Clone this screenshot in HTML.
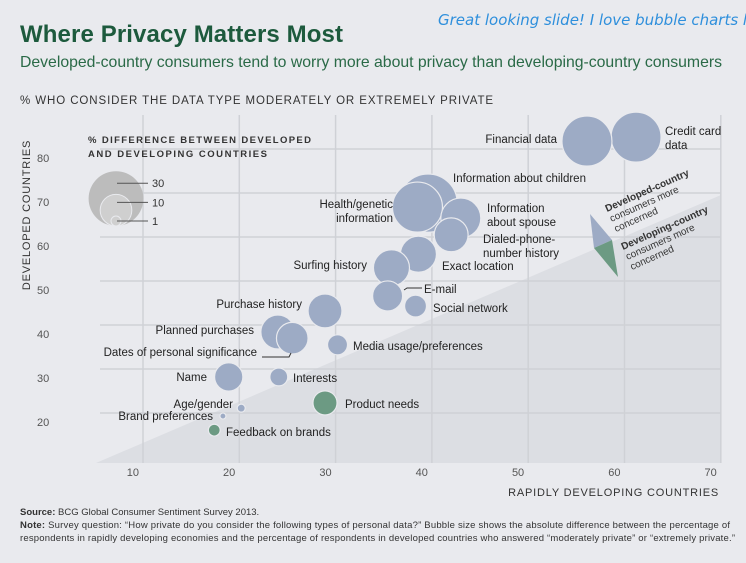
<!DOCTYPE html>
<html><head><meta charset="utf-8"><style>
html,body{margin:0;padding:0;background:#e9eaee;}
svg{display:block;font-family:"Liberation Sans",sans-serif;}
</style></head><body>
<svg width="746" height="563" viewBox="0 0 746 563">
<rect width="746" height="563" fill="#e9eaee"/>
<text x="20" y="42" font-size="24" font-weight="bold" fill="#1d5a3d" textLength="323">Where Privacy Matters Most</text>
<text x="20" y="67" font-size="15.8" fill="#2a6a47" textLength="702">Developed-country consumers tend to worry more about privacy than developing-country consumers</text>
<text x="438" y="25" font-size="15" font-style="italic" fill="#2e8fdc" font-family="DejaVu Sans,sans-serif">Great looking slide!  I love bubble charts li</text>
<text x="20" y="104" font-size="11.5" letter-spacing="0.9" fill="#333" textLength="474">% WHO CONSIDER THE DATA TYPE MODERATELY OR EXTREMELY PRIVATE</text>
<g id="plot"></g>
<text transform="translate(30,215) rotate(-90)" text-anchor="middle" font-size="11" letter-spacing="0.8" fill="#333">DEVELOPED COUNTRIES</text>
<text x="719" y="496" text-anchor="end" font-size="11" letter-spacing="0.8" fill="#333">RAPIDLY DEVELOPING COUNTRIES</text>
<text x="20" y="515" font-size="9.5" fill="#333"><tspan font-weight="bold">Source:</tspan> BCG Global Consumer Sentiment Survey 2013.</text>
<text x="20" y="528" font-size="9.5" fill="#333" textLength="710"><tspan font-weight="bold">Note:</tspan> Survey question: “How private do you consider the following types of personal data?” Bubble size shows the absolute difference between the percentage of</text>
<text x="20" y="541" font-size="9.5" fill="#333" textLength="715">respondents in rapidly developing economies and the percentage of respondents in developed countries who answered “moderately private” or “extremely private.”</text>
</svg>
<script>
const names=["Credit card data","Financial data","Information about children","Health/genetic information","Information about spouse","Dialed-phone-number history","Exact location","Surfing history","E-mail","Social network","Purchase history","Planned purchases","Dates of personal significance","Media usage/preferences","Name","Interests","Product needs","Age/gender","Brand preferences","Feedback on brands"];
const developing=[61.2,56.1,39.6,38.5,43.0,42.0,38.6,35.8,35.4,38.3,28.9,24.0,25.5,30.2,18.9,24.1,28.9,20.2,18.3,17.4];
const developed=[82.7,81.8,67.7,66.8,64.3,60.5,56.1,53.0,46.6,44.3,43.2,38.4,37.0,35.5,28.2,28.2,22.3,21.1,19.3,16.1];
const diffs=[25,25,34,25,16,11.5,13,13,9,4.8,11.5,11.5,10,4,8,3.2,5.8,0.64,0.36,1.4];
const developingMore=[0,0,0,0,0,0,0,0,0,0,0,0,0,0,0,0,1,0,0,1];
const xTicks=[10,20,30,40,50,60,70];
const yTicks=[20,30,40,50,60,70,80];
const legendVals=[30,10,1];

const NS="http://www.w3.org/2000/svg";
const X=v=>143+(v-10)*9.63;
const Y=v=>149+(80-v)*4.4;
const R=d=>5*Math.sqrt(d);
const g=document.getElementById('plot');
function mk(t,a,p){const e=document.createElementNS(NS,t);for(const k in a)e.setAttribute(k,a[k]);(p||g).appendChild(e);return e;}

const diag=mk('polygon',{points:`96,463 721,195 721,463`,fill:'#dcdee3'});


xTicks.forEach(v=>{
  const l=mk('line',{x1:X(v),x2:X(v),y1:115,y2:463,stroke:'#cfd1d6','stroke-width':1.5});
  
  
  const t=mk('text',{x:X(v)-4,y:476,'text-anchor':'end','font-size':11,fill:'#555'});
  t.textContent=v;
  
  
});
yTicks.forEach(v=>{
  const l=mk('line',{x1:100,x2:721,y1:Y(v),y2:Y(v),stroke:'#cfd1d6','stroke-width':1.5});
  
  
  const t=mk('text',{x:37,y:Y(v)+13,'font-size':11,fill:'#555'});
  t.textContent=v;
  
  
});
const lg=mk('g',{});


const lt1=mk('text',{x:88,y:143,'font-size':9.5,'font-weight':'bold','letter-spacing':1,fill:'#333',textLength:224},lg);lt1.textContent='% DIFFERENCE BETWEEN DEVELOPED';


const lt2=mk('text',{x:88,y:157,'font-size':9.5,'font-weight':'bold','letter-spacing':1,fill:'#333',textLength:180},lg);lt2.textContent='AND DEVELOPING COUNTRIES';


const lb=226;
legendVals.forEach((v,i)=>{
  const r=R(v);
  const c=mk('circle',{cx:116,cy:lb-r,r:r,fill:i==0?'#bcbcbc':'#cfcfcf',stroke:'#e9eaee','stroke-width':i==0?0:1},lg);
  
  
  const yy=lb-2*r+(i==0?12:(i==1?8:5));
  mk('line',{x1:117,x2:148,y1:yy,y2:yy,stroke:'#555','stroke-width':1},lg);
  const t=mk('text',{x:152,y:yy+4,'font-size':11,fill:'#333'},lg);t.textContent=v;
  
  
});
diffs.forEach((d,i)=>{
  const c=mk('circle',{cx:X(developing[i]),cy:Y(developed[i]),r:R(d),fill:developingMore[i]?'#6c9a83':'#9dabc5',stroke:'#e9eaee','stroke-width':1.2});
  
  
});
const labels=[
 [665,135,"start",["Credit card","data"]],[557,143,"end",["Financial data"]],
 [453,182,"start",["Information about children"]],[393,208,"end",["Health/genetic","information"]],
 [487,212,"start",["Information","about spouse"]],[483,243,"start",["Dialed-phone-","number history"]],
 [442,270,"start",["Exact location"]],[367,269,"end",["Surfing history"]],
 [424,293,"start",["E-mail"]],[433,312,"start",["Social network"]],
 [302,308,"end",["Purchase history"]],[254,334,"end",["Planned purchases"]],
 [257,356,"end",["Dates of personal significance"]],[353,350,"start",["Media usage/preferences"]],
 [207,381,"end",["Name"]],[293,382,"start",["Interests"]],
 [345,408,"start",["Product needs"]],[233,408,"end",["Age/gender"]],
 [213,420,"end",["Brand preferences"]],[226,436,"start",["Feedback on brands"]]
];
labels.forEach(l=>{
  const t=mk('text',{x:l[0],y:l[1],'text-anchor':l[2],'font-size':11.5,fill:'#222'});
  l[3].forEach((s,j)=>{const ts=mk('tspan',{x:l[0],dy:j?14:0},t);ts.textContent=s;});
  
  
});
mk('polyline',{points:'262,357 289,357 291,353',fill:'none',stroke:'#333','stroke-width':1});
mk('polyline',{points:'404,290 407,288 422,288',fill:'none',stroke:'#333','stroke-width':1});
const k1=mk('polygon',{points:'590,214 612,240 594,248',fill:'#9dabc5'});


const k2=mk('polygon',{points:'594,248 612,240 618,277',fill:'#6c9a83'});


function rot(x,y,lines,name){
  const t=mk('text',{transform:`translate(${x},${y}) rotate(-24)`,'font-size':10,fill:'#333'});
  lines.forEach((s,j)=>{const ts=mk('tspan',{x:0,dy:j?11:0,'font-weight':j?'normal':'bold'},t);ts.textContent=s;});
  
  
}
rot(607,212,["Developed-country","consumers more","concerned"],'developed-key-label');
rot(623,250,["Developing-country","consumers more","concerned"],'developing-key-label');
</script>
</body></html>
